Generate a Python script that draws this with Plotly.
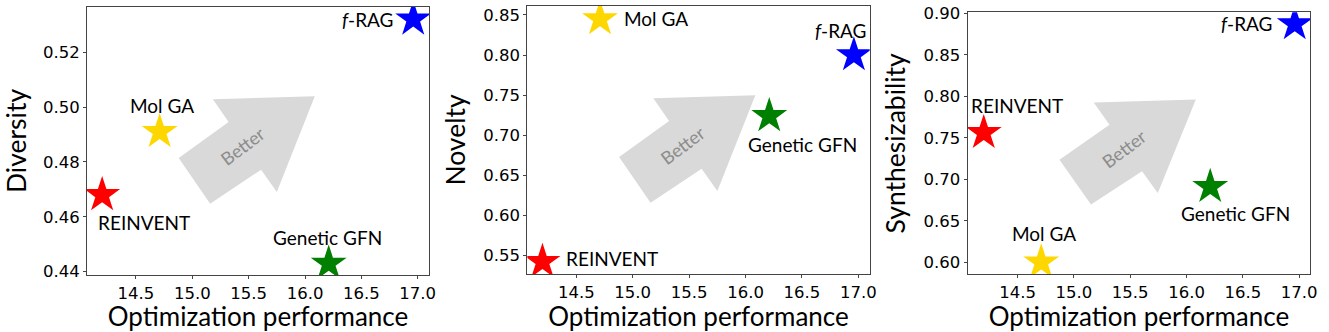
import plotly.graph_objects as go

methods = ["REINVENT", "Mol GA", "Genetic GFN", "<i>f</i>-RAG"]
colors = ["#ff0000", "#ffd700", "#008000", "#0000ff"]
opt_perf = [14.2, 14.71, 16.21, 16.96]
diversity = [0.468, 0.491, 0.443, 0.532]
novelty = [0.542, 0.845, 0.724, 0.800]
synthesizability = [0.756, 0.600, 0.691, 0.887]

y_titles = ["Diversity", "Novelty", "Synthesizability"]
y_values = [diversity, novelty, synthesizability]
y_ranges = [[0.4388, 0.5365], [0.5267, 0.8612], [0.5855, 0.9012]]
y_dticks = [0.02, 0.05, 0.05]
x_ranges = [[14.066, 17.1], [14.066, 17.1], [14.057, 17.098]]
x_domains = [[0.0655, 0.3228], [0.3968, 0.6544], [0.7281, 0.9859]]
y_domains = [[0.1717, 0.9789], [0.1747, 0.9819], [0.1738, 0.963]]

# label placement per panel: (xanchor, xshift, yshift)
label_pos = [
    [("left", -6, -28), ("center", 2, 26), ("center", -1, 26), ("right", -18, 0)],
    [("left", 22, 3), ("left", 22, 0), ("center", 33, -29), ("center", -13, 25)],
    [("center", 33, 27), ("center", 3, 29), ("center", 25, -27), ("right", -21, 1)],
]

# block arrow outline in axis-domain units
arrow = [(0.268, 0.437), (0.414, 0.571), (0.368, 0.656), (0.666, 0.667),
         (0.555, 0.31), (0.509, 0.393), (0.36, 0.266)]

label_font = "Lato, Carlito, sans-serif"
tick_font = "DejaVu Sans"

fig = go.Figure()
for i in range(3):
    n = "" if i == 0 else str(i + 1)
    xa, ya = "x" + n, "y" + n
    fig.add_trace(go.Scatter(
        x=opt_perf, y=y_values[i], mode="markers", xaxis=xa, yaxis=ya,
        marker=dict(symbol="star", size=27, color=colors, line_width=0),
        showlegend=False, hoverinfo="skip"))

    path = "M " + " L ".join(f"{px},{py}" for px, py in arrow) + " Z"
    fig.add_shape(type="path", path=path, xref=xa + " domain", yref=ya + " domain",
                  fillcolor="#d9d9d9", line_width=0, layer="below")
    fig.add_annotation(text="Better", xref=xa + " domain", yref=ya + " domain",
                       x=0.455, y=0.48, showarrow=False, textangle=-37,
                       font=dict(family=label_font, size=18, color="#8c8c8c"))

    for j, m in enumerate(methods):
        anc, xs, ys = label_pos[i][j]
        fig.add_annotation(text=m, x=opt_perf[j], y=y_values[i][j], xref=xa, yref=ya,
                           showarrow=False, xanchor=anc, xshift=xs, yshift=ys,
                           font=dict(family=label_font, size=19, color="black"))

    axis_common = dict(showline=True, linecolor="#444", linewidth=1, mirror=True,
                       ticks="outside", ticklen=3, tickcolor="#444", showgrid=False,
                       zeroline=False, automargin=False,
                       tickfont=dict(family=tick_font, size=16.5, color="black"))
    fig.layout["xaxis" + n] = dict(
        domain=x_domains[i], range=x_ranges[i], anchor=ya, tick0=14.5, dtick=0.5,
        tickformat=".1f",
        title=dict(text="Optimization performance", standoff=6,
                   font=dict(family=label_font, size=26, color="black")),
        **axis_common)
    fig.layout["yaxis" + n] = dict(
        domain=y_domains[i], range=y_ranges[i], anchor=xa, dtick=y_dticks[i],
        tickformat=".2f",
        title=dict(text=y_titles[i], standoff=10,
                   font=dict(family=label_font, size=26.5, color="black")),
        **axis_common)

fig.update_layout(width=1329, height=332, margin=dict(l=0, r=0, t=0, b=0),
                  plot_bgcolor="white", paper_bgcolor="white")
# page body has a default 8px margin; drop it so the figure fills the window
fig.write_html("out.html", config={"displayModeBar": False},
               post_script="document.body.style.margin = '0';")
